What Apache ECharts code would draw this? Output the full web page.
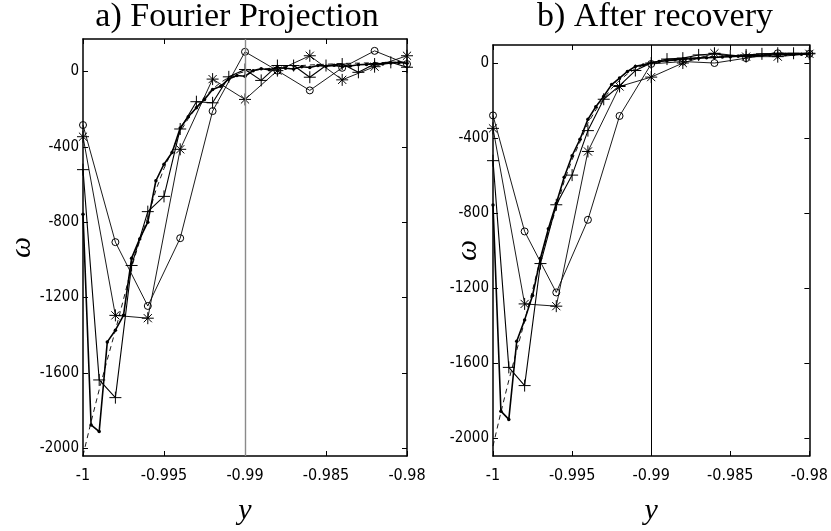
<!DOCTYPE html>
<html><head><meta charset="utf-8">
<script src="https://cdn.jsdelivr.net/npm/echarts@6/dist/echarts.min.js"></script>
<style>html,body{margin:0;padding:0;background:#fff}#c{width:831px;height:531px}</style>
</head><body><div id="c"></div><script>
// ---- x grids ----
const xFine = [-1,-0.9995,-0.999,-0.9985,-0.998,-0.9975,-0.997,-0.9965,-0.996,-0.9955,-0.995,-0.9945,-0.994,-0.9935,-0.993,-0.9925,-0.992,-0.9915,-0.991,-0.9905,-0.99,-0.9895,-0.989,-0.9885,-0.988,-0.9875,-0.987,-0.9865,-0.986,-0.9855,-0.985,-0.9845,-0.984,-0.9835,-0.983,-0.9825,-0.982,-0.9815,-0.981,-0.9805,-0.98];
const xMid = [-1,-0.999,-0.998,-0.997,-0.996,-0.995,-0.994,-0.993,-0.992,-0.991,-0.99,-0.989,-0.988,-0.987,-0.986,-0.985,-0.984,-0.983,-0.982,-0.981,-0.98];
const xCoarse = [-1,-0.998,-0.996,-0.994,-0.992,-0.99,-0.988,-0.986,-0.984,-0.982,-0.98];

// ---- exact (dashed) ----
const exact = [-2040,-1860,-1690,-1530,-1375,-1210,-1040,-900,-775,-630,-515,-420,-320,-250,-190,-135,-92,-58,-30,-12,0,6,12,17,22,26,29,32,35,37,39,41,43,44,45,46,47,48,49,50,51];

// ---- a) Fourier Projection ----
const aDots = [-758,-1877,-1912,-1436,-1374,-1295,-991,-889,-800,-580,-492,-430,-300,-240,-192,-148,-95,-78,-39,-21,-25,5,15,10,22,18,14,26,22,32,28,33,27,30,36,38,42,40,46,48,44];
const aPlus = [-521,-1638,-1732,-1030,-744,-663,-305,-160,-166,-28,11,-47,32,32,-30,32,40,-4,40,49,23];
const aCircle = [-284,-906,-1245,-885,-210,105,5,-100,20,110,40];
const aStar = [-346,-1295,-1310,-413,-40,-148,5,84,-44,26,84];

// ---- b) After recovery ----
const bDots = [-756,-1854,-1898,-1482,-1368,-1238,-1040,-883,-748,-608,-494,-406,-300,-233,-177,-115,-80,-45,-18,-10,2,8,13,17,20,23,26,28,30,32,34,36,38,40,41,43,44,45,46,47,48];
const bPlus = [-520,-1621,-1718,-1068,-755,-597,-360,-193,-120,-40,0,21,26,43,49,38,43,49,52,52,52];
const bCircle = [-279,-897,-1222,-835,-282,-5,8,0,26,52,49];
const bStar = [-348,-1283,-1295,-471,-125,-75,0,52,34,34,49];

const xTicks = [-1,-0.995,-0.99,-0.985,-0.98];
const yTicks = [-2000,-1600,-1200,-800,-400,0];
const refX = -0.99;
const titles = ['a) Fourier Projection','b) After recovery'];

const PLUS = 'path://M5,0L5,10M0,5L10,5';
const STAR = 'path://M5,0L5,10M0,5L10,5M1.6,1.6L8.4,8.4M1.6,8.4L8.4,1.6';
const labelFont = '"Liberation Sans Narrow","Arial Narrow","DejaVu Sans Condensed",sans-serif';
const serifFont = '"Liberation Serif","DejaVu Serif",serif';

function pts(xs, ys){ return xs.map((x,i)=>[x, ys[i]]); }
function ser(gi, xs, ys, kind){
  const s = {type:'line', xAxisIndex:gi, yAxisIndex:gi, data:pts(xs,ys), showAllSymbol:true,
    animation:false, silent:true, z:3,
    lineStyle:{color:'#000', width:0.9}, itemStyle:{color:'#000'}};
  if(kind==='dots'){ s.symbol='circle'; s.symbolSize=3.5; s.lineStyle.width=1.6; s.z=4; }
  else if(kind==='plus'){ s.symbol=PLUS; s.symbolSize=12; s.itemStyle={color:'none',borderColor:'#000',borderWidth:1}; s.lineStyle.width=1.1; }
  else if(kind==='star'){ s.symbol=STAR; s.symbolSize=12; s.itemStyle={color:'none',borderColor:'#000',borderWidth:1}; }
  else if(kind==='circle'){ s.symbol='circle'; s.symbolSize=7; s.itemStyle={color:'none',borderColor:'#000',borderWidth:1}; }
  else if(kind==='dash'){ s.symbol='none'; s.lineStyle={color:'#000', width:0.9, type:[5,4]}; s.z=2;
    s.markLine={silent:true, symbol:'none', label:{show:false}, animation:false,
      lineStyle:{color: gi===0?'#8a8a8a':'#000', width: gi===0?1.4:1, type:'solid'}, data:[{xAxis:refX}]}; }
  return s;
}

const grids = [
  {left:83, right:424, top:39, bottom:73},
  {left:493, right:15, top:45, bottom:72}
];
const yLim = [[-2042,173],[-2093,96]];

const xAxes = [], yAxes = [];
[0,1].forEach(gi=>{
  xAxes.push({type:'value', gridIndex:gi, position:'bottom', min:-1, max:-0.98,
    name:'y', nameLocation:'middle', nameGap:40, nameMoveOverlap:false,
    nameTextStyle:{fontFamily:serifFont, fontStyle:'italic', fontSize:30, color:'#000'},
    axisLine:{show:true, onZero:false, lineStyle:{color:'#000', width:1.5}},
    axisTick:{show:true, inside:true, length:5, customValues:xTicks, lineStyle:{color:'#000'}},
    axisLabel:{show:true, margin:12, customValues:xTicks, fontFamily:labelFont, fontSize:16, color:'#000',
      formatter:v=>String(Number((+v).toFixed(3)))},
    splitLine:{show:false}});
  yAxes.push({type:'value', gridIndex:gi, position:'left', min:yLim[gi][0], max:yLim[gi][1],
    name:'ω', nameLocation:'middle', nameGap: gi===0?46:10, nameRotate:90, nameMoveOverlap:false,
    nameTextStyle:{fontFamily:serifFont, fontStyle:'italic', fontSize:30, color:'#000'},
    axisLine:{show:true, onZero:false, lineStyle:{color:'#000', width:1.5}},
    axisTick:{show:true, inside:true, length:5, customValues:yTicks, lineStyle:{color:'#000'}},
    axisLabel:{show:true, margin:4, customValues:yTicks, fontFamily:labelFont, fontSize:15, color:'#000',
      formatter:v=>String(Math.round(v))},
    splitLine:{show:false}});
});
[0,1].forEach(gi=>{
  xAxes.push({type:'value', gridIndex:gi, position:'top', min:-1, max:-0.98,
    axisLine:{show:true, onZero:false, lineStyle:{color:'#000', width:1.5}},
    axisTick:{show:true, inside:true, length:5, customValues:xTicks, lineStyle:{color:'#000'}},
    axisLabel:{show:false}, splitLine:{show:false}});
  yAxes.push({type:'value', gridIndex:gi, position:'right', min:yLim[gi][0], max:yLim[gi][1],
    axisLine:{show:true, onZero:false, lineStyle:{color:'#000', width:1.5}},
    axisTick:{show:true, inside:true, length:5, customValues:yTicks, lineStyle:{color:'#000'}},
    axisLabel:{show:false}, splitLine:{show:false}});
});

const series = [
  ser(0,xFine,exact,'dash'), ser(0,xCoarse,aCircle,'circle'), ser(0,xCoarse,aStar,'star'),
  ser(0,xMid,aPlus,'plus'), ser(0,xFine,aDots,'dots'),
  ser(1,xFine,exact,'dash'), ser(1,xCoarse,bCircle,'circle'), ser(1,xCoarse,bStar,'star'),
  ser(1,xMid,bPlus,'plus'), ser(1,xFine,bDots,'dots')
];

const chart = echarts.init(document.getElementById('c'), null, {renderer:'canvas'});
chart.setOption({
  backgroundColor:'#fff',
  animation:false,
  title: titles.map((t,i)=>({text:t, left: i===0?232:650, top:-5, textAlign:'center',
    textStyle:{fontFamily:serifFont, fontWeight:'normal', fontSize:34, color:'#000'}})),
  grid: grids,
  xAxis: xAxes,
  yAxis: yAxes,
  series: series
});
</script></body></html>
